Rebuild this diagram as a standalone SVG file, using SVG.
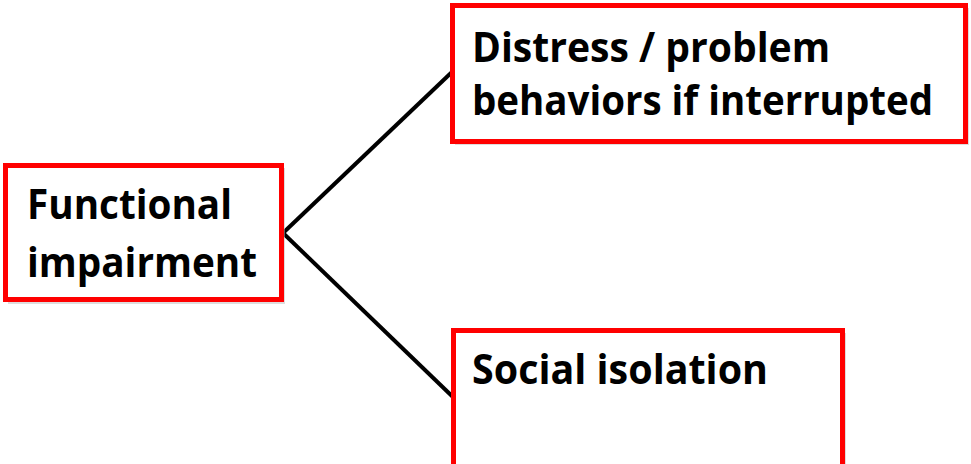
<svg xmlns="http://www.w3.org/2000/svg" width="971" height="464" viewBox="0 0 971 464">
<style>
.box{fill:#fff;stroke:#ff0000;stroke-width:5}
.sh{fill:#bbb;opacity:0.5}
.t{font-family:"Open Sans","Liberation Sans",sans-serif;font-weight:bold;font-size:41px;fill:#000}
.c{stroke:#000;stroke-width:4;fill:none}
</style>
<rect width="971" height="464" fill="#fff"/>
<g id="connectors">
<line class="c" x1="283" y1="233" x2="452" y2="72"/>
<line class="c" x1="283" y1="233" x2="454" y2="398"/>
</g>
<g id="functional">
<rect class="sh" x="8" y="168" width="277" height="136"/>
<rect class="box" x="5.5" y="165.5" width="276" height="134"/>
<text class="t" x="27" y="219" textLength="205" lengthAdjust="spacingAndGlyphs">Functional</text>
<text class="t" x="27" y="277" textLength="230" lengthAdjust="spacingAndGlyphs">impairment</text>
</g>
<g id="distress">
<rect class="sh" x="455" y="8" width="514" height="137"/>
<rect class="box" x="452.5" y="5.5" width="513" height="136"/>
<text class="t" x="472" y="62" textLength="358" lengthAdjust="spacingAndGlyphs">Distress / problem</text>
<text class="t" x="472" y="115" textLength="461" lengthAdjust="spacingAndGlyphs">behaviors if interrupted</text>
</g>
<g id="social">
<rect class="sh" x="456" y="333" width="390" height="140"/>
<rect class="box" x="453.5" y="330.5" width="389" height="140"/>
<text class="t" x="472" y="384" textLength="296" lengthAdjust="spacingAndGlyphs">Social isolation</text>
</g>
</svg>
